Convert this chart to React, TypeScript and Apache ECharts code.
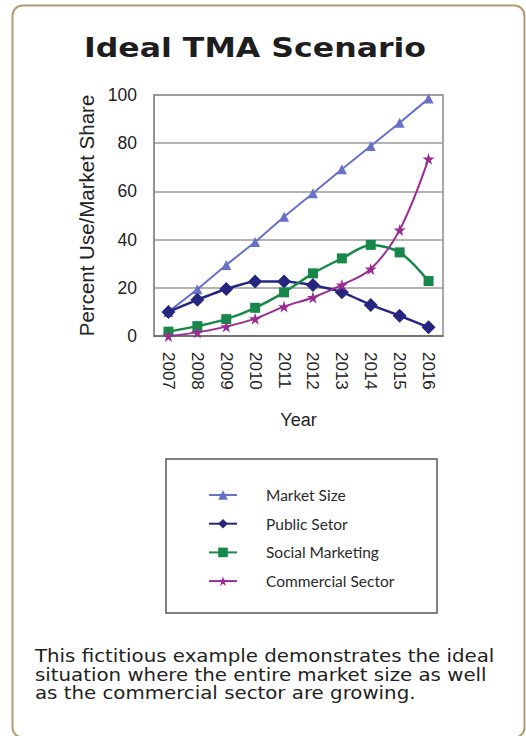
import React, { useEffect, useRef } from "react";
import * as echarts from "echarts";

const years = ["2007", "2008", "2009", "2010", "2011", "2012", "2013", "2014", "2015", "2016"];
const marketSize = [10, 19.4, 29.5, 39, 49.5, 59.2, 69.2, 78.8, 88.5, 98.5];
const publicSector = [10, 15, 19.5, 22.6, 22.6, 21.2, 18.2, 12.9, 8.4, 3.6];
const socialMarketing = [1.8, 4.1, 7, 11.7, 18.1, 26, 32.2, 37.8, 34.7, 22.8];
const commercialSector = [0, 1.5, 3.9, 7.2, 12.2, 16, 21.2, 27.8, 44, 73.5];
const yTicks = { min: 0, max: 100, interval: 20 };

const seriesNames = ["Market Size", "Public Setor", "Social Marketing", "Commercial Sector"];
const titleText = "Ideal TMA Scenario";
const footerLines = [
  "This fictitious example demonstrates the ideal",
  "situation where the entire market size as well",
  "as the commercial sector are growing.",
];

const STAR = "path://M50,0 L61,35 L98,35 L68,57 L79,91 L50,70 L21,91 L32,57 L2,35 L39,35 Z";

export default function App() {
  const ref = useRef<HTMLDivElement>(null);
  useEffect(() => {
    if (!ref.current) return;
    const chart = echarts.init(ref.current, undefined, { renderer: "svg" });
    const colors = ["#6870c8", "#262680", "#17884a", "#9a2c92"];
    chart.setOption({
      animation: false,
      backgroundColor: "#ffffff",
      grid: {
        left: 154,
        top: 95,
        width: 289,
        height: 241,
        show: true,
        borderColor: "#8a8a8a",
        borderWidth: 1.5,
        containLabel: false,
      },
      legend: {
        orient: "vertical",
        left: 203,
        top: 482,
        itemWidth: 28,
        itemHeight: 12,
        itemGap: 12.7,
        data: seriesNames,
        textStyle: { fontFamily: "Lato", fontSize: 15.5, color: "#2a2a2a", padding: [0, 0, 0, 24] },
      },
      xAxis: {
        type: "category",
        data: years,
        boundaryGap: true,
        name: "Year",
        nameLocation: "middle",
        nameGap: 75,
        nameTextStyle: { fontFamily: "Liberation Sans", fontSize: 18, color: "#222" },
        axisLine: { lineStyle: { color: "#666", width: 1.5 } },
        axisTick: { show: false },
        axisLabel: {
          rotate: -90,
          margin: 16,
          fontFamily: "Liberation Sans",
          fontSize: 17,
          color: "#222",
          interval: 0,
        },
      },
      yAxis: {
        type: "value",
        min: yTicks.min,
        max: yTicks.max,
        interval: yTicks.interval,
        name: "Percent Use/Market Share",
        nameLocation: "middle",
        nameGap: 57,
        nameTextStyle: { fontFamily: "Liberation Sans", fontSize: 20.5, color: "#222" },
        axisLine: { show: true, lineStyle: { color: "#8a8a8a", width: 1.5 } },
        axisTick: { show: false },
        axisLabel: { margin: 17, fontFamily: "Liberation Sans", fontSize: 17.5, color: "#222" },
        splitLine: { lineStyle: { color: "#9a9a9a", width: 1.5 } },
      },
      series: [
        {
          name: seriesNames[0],
          type: "line",
          data: marketSize,
          symbol: "triangle",
          symbolSize: 10,
          lineStyle: { color: colors[0], width: 2 },
          itemStyle: { color: colors[0] },
        },
        {
          name: seriesNames[1],
          type: "line",
          data: publicSector,
          smooth: 0.15,
          symbol: "diamond",
          symbolSize: 14,
          lineStyle: { color: colors[1], width: 2.5 },
          itemStyle: { color: colors[1] },
        },
        {
          name: seriesNames[2],
          type: "line",
          data: socialMarketing,
          smooth: 0.3,
          symbol: "rect",
          symbolSize: 10,
          lineStyle: { color: colors[2], width: 2.5 },
          itemStyle: { color: colors[2] },
        },
        {
          name: seriesNames[3],
          type: "line",
          data: commercialSector,
          smooth: 0.35,
          symbol: STAR,
          symbolSize: 12,
          lineStyle: { color: colors[3], width: 2 },
          itemStyle: { color: colors[3] },
        },
      ],
      graphic: [
        {
          type: "rect",
          shape: { x: 12.5, y: 5.5, width: 512, height: 732, r: 10 },
          style: { fill: "none", stroke: "#b09c74", lineWidth: 2 },
          z: 10,
        },
        {
          type: "rect",
          shape: { x: 166, y: 459, width: 271, height: 154 },
          style: { fill: "none", stroke: "#5a5a5a", lineWidth: 1.5 },
        },
        {
          type: "text",
          x: 255,
          y: 48,
          scaleX: 1.17,
          style: {
            text: titleText,
            x: 0,
            y: 0,
            align: "center",
            verticalAlign: "middle",
            fontFamily: "DejaVu Sans",
            fontWeight: "bold",
            fontSize: 27,
            fill: "#1e1e1e",
          },
        },
        {
          type: "text",
          x: 35,
          y: 646,
          scaleX: 1.1,
          style: {
            text: footerLines.join("\n"),
            x: 0,
            y: 0,
            fontFamily: "DejaVu Sans",
            fontSize: 18,
            lineHeight: 18.7,
            fill: "#222",
          },
        },
      ],
    });
    return () => chart.dispose();
  }, []);
  return (
    <div
      ref={ref}
      style={{ position: "absolute", left: 0, top: 0, width: 526, height: 736 }}
    />
  );
}
